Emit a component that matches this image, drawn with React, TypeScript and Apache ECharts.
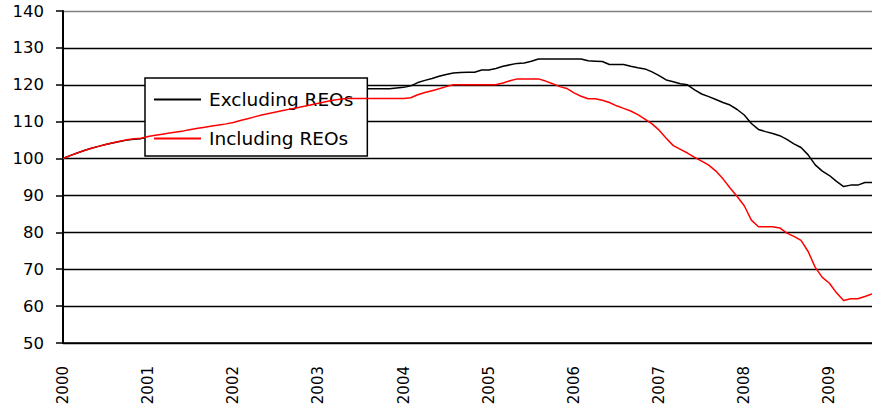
import React, { useEffect, useRef } from "react";
import * as echarts from "echarts";

const years = ["2000", "2001", "2002", "2003", "2004", "2005", "2006", "2007", "2008", "2009"];
const monthsIn2009 = 7;

const excludingREOs = [
  100, 100.8, 101.5, 102.2, 102.8, 103.3, 103.8, 104.2, 104.6, 105, 105.2, 105.4,
  105.8, 106.1, 106.4, 106.8, 107.1, 107.4, 107.8, 108.1, 108.4, 108.8, 109.1, 109.4,
  109.8, 110.3, 110.8, 111.3, 111.8, 112.3, 112.8, 113.3, 113.8, 114.3, 114.8, 115.3,
  115.8, 116.3, 116.8, 117.3, 117.8, 118.3, 118.9, 118.9, 118.9, 118.9, 118.9, 119.1,
  119.3, 119.7, 120.6, 121.2, 121.7, 122.3, 122.8, 123.2, 123.3, 123.4, 123.4, 124,
  124, 124.4, 125, 125.4, 125.8, 125.9, 126.4, 127, 127, 127, 127, 127,
  127, 127, 126.5, 126.4, 126.3, 125.5, 125.5, 125.5, 125, 124.6, 124.3, 123.5,
  122.5, 121.3, 120.8, 120.3, 120, 118.6, 117.5, 116.8, 116, 115.2, 114.5, 113.3,
  111.8, 109.5, 107.9, 107.3, 106.8, 106.2, 105.2, 104, 103, 101, 98.3, 96.6,
  95.4, 93.8, 92.4, 92.8, 92.8, 93.5, 93.5,
];

const includingREOs = [
  100, 100.8, 101.5, 102.2, 102.8, 103.3, 103.8, 104.3, 104.7, 105.1, 105.4, 105.5,
  106, 106.3, 106.6, 106.9, 107.2, 107.5, 107.9, 108.2, 108.5, 108.8, 109.1, 109.4,
  109.8, 110.3, 110.8, 111.3, 111.8, 112.2, 112.6, 113, 113.4, 113.8, 114.2, 114.6,
  115, 115.4, 115.8, 116.1, 116.3, 116.3, 116.3, 116.3, 116.3, 116.3, 116.3, 116.3,
  116.3, 116.5, 117.3, 117.9, 118.4, 118.9, 119.5, 120, 120, 120, 120, 120,
  120, 120, 120.5, 121.1, 121.6, 121.6, 121.6, 121.6, 121, 120.3, 119.5, 119,
  117.8, 116.9, 116.2, 116.2, 115.8, 115.2, 114.3, 113.6, 112.9, 111.9, 110.7, 109.4,
  107.7, 105.5, 103.5, 102.5, 101.5, 100.3, 99.3, 98.2, 96.6, 94.5, 92, 89.7,
  87.2, 83.3, 81.5, 81.5, 81.5, 81.2, 79.8, 78.9, 77.8, 74.8, 70.5, 67.8,
  66.2, 63.6, 61.5, 62, 62, 62.6, 63.3,
];

const seriesNames = ["Excluding REOs", "Including REOs"];

const categories: string[] = [];
years.forEach((y, yi) => {
  const n = yi === years.length - 1 ? monthsIn2009 : 12;
  for (let m = 1; m <= n; m++) categories.push(`${y}-${String(m).padStart(2, "0")}`);
});

const FONT = "'DejaVu Sans', 'Liberation Sans', Arial, sans-serif";

export default function App() {
  const ref = useRef<HTMLDivElement>(null);
  useEffect(() => {
    if (!ref.current) return;
    const chart = echarts.init(ref.current, null, { renderer: "svg" });
    chart.setOption({
      animation: false,
      backgroundColor: "#ffffff",
      textStyle: { fontFamily: FONT },
      grid: { left: 63, top: 11, right: -5, bottom: 70, containLabel: false },
      legend: {
        left: 145,
        top: 78,
        orient: "vertical",
        backgroundColor: "#ffffff",
        borderColor: "#000000",
        borderWidth: 1.5,
        borderRadius: 0,
        padding: [12, 14, 8, 8],
        itemWidth: 47,
        itemHeight: 14,
        itemGap: 20,
        itemStyle: { opacity: 0 },
        textStyle: {
          fontFamily: FONT,
          fontSize: 18.5,
          lineHeight: 14,
          color: "#000",
          padding: [0, 0, 0, 3],
        },
        data: seriesNames,
      },
      xAxis: {
        type: "category",
        data: categories,
        boundaryGap: false,
        axisLine: { lineStyle: { color: "#000", width: 1.5 } },
        axisTick: { show: false },
        splitLine: { show: false },
        axisLabel: {
          rotate: 90,
          fontSize: 15,
          color: "#000",
          fontFamily: FONT,
          margin: 23,
          interval: (i: number) => i % 12 === 0,
          formatter: (v: string) => v.slice(0, 4),
        },
      },
      yAxis: {
        type: "value",
        min: 50,
        max: 140,
        interval: 10,
        axisLine: { show: true, lineStyle: { color: "#000", width: 2 } },
        axisTick: { show: true, length: 7, lineStyle: { color: "#000", width: 1.5 } },
        axisLabel: { fontSize: 16.5, color: "#000", fontFamily: FONT, margin: 19 },
        splitLine: {
          show: true,
          lineStyle: {
            color: ["#000", "#000", "#000", "#000", "#000", "#000", "#000", "#000", "#000", "#808080"],
            width: 1.3,
          },
        },
      },
      series: [
        {
          name: seriesNames[0],
          type: "line",
          data: excludingREOs,
          symbol: "none",
          lineStyle: { color: "#000000", width: 1.5 },
          itemStyle: { color: "#000000" },
          z: 3,
        },
        {
          name: seriesNames[1],
          type: "line",
          data: includingREOs,
          symbol: "none",
          lineStyle: { color: "#ff0000", width: 1.5 },
          itemStyle: { color: "#ff0000" },
          z: 4,
        },
      ],
    });
    return () => chart.dispose();
  }, []);
  return (
    <div
      ref={ref}
      style={{ position: "absolute", left: 0, top: 0, width: 872, height: 413 }}
    />
  );
}
